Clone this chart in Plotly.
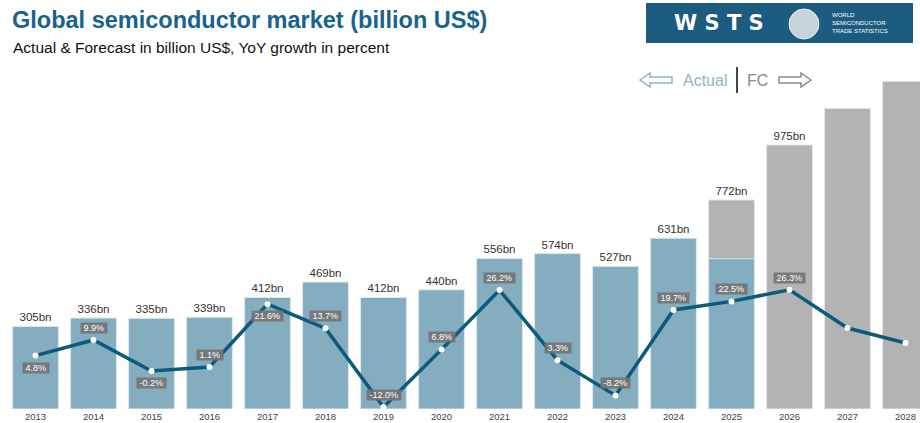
import plotly.graph_objects as go

years = [str(y) for y in range(2013, 2029)]
actual_years = years[:13]
actual_values = [305, 336, 335, 339, 412, 469, 412, 440, 556, 574, 527, 631, 555]
actual_labels = ["305bn", "336bn", "335bn", "339bn", "412bn", "469bn", "412bn", "440bn",
                 "556bn", "574bn", "527bn", "631bn", ""]
fc_years = years[12:]
fc_values = [772, 975, 1110, 1210]
fc_labels = ["772bn", "975bn", "", ""]
growth = [4.8, 9.9, -0.2, 1.1, 21.6, 13.7, -12.0, 6.8, 26.2, 3.3, -8.2, 19.7, 22.5, 26.3, 13.8, 8.9]
growth_labels = ["4.8%", "9.9%", "-0.2%", "1.1%", "21.6%", "13.7%", "-12.0%", "6.8%", "26.2%",
                 "3.3%", "-8.2%", "19.7%", "22.5%", "26.3%", "", ""]
label_below = ["2013", "2015", "2017"]

W, H = 920, 423
L, R, T, B = 6, 0, 60, 14
PW, PH = W - L - R, H - T - B


def px(x):
    return (x - L) / PW


def py(y):
    return (H - B - y) / PH


def path(points):
    return "M" + " L".join(f"{px(x):.5f},{py(y):.5f}" for x, y in points) + " Z"


fig = go.Figure()
fig.add_trace(go.Bar(x=fc_years, y=fc_values, text=fc_labels, textposition="outside",
                     marker=dict(color="#b3b3b3", line=dict(color="#e4e4e4", width=1)),
                     width=0.79, textfont=dict(size=11.5, color="#333"), cliponaxis=False,
                     showlegend=False, hoverinfo="skip"))
fig.add_trace(go.Bar(x=actual_years, y=actual_values, text=actual_labels, textposition="outside",
                     marker=dict(color="#84adbf", line=dict(color="#dce8ee", width=1)),
                     width=0.79, textfont=dict(size=11.5, color="#333"), cliponaxis=False,
                     showlegend=False, hoverinfo="skip"))
fig.add_trace(go.Scatter(x=years, y=growth, yaxis="y2", mode="lines+markers",
                         line=dict(color="#0d5b7c", width=3.5),
                         marker=dict(color="white", size=6, line=dict(width=0)),
                         cliponaxis=False, showlegend=False, hoverinfo="skip"))

annotations = []
for i, (yr, g, lab) in enumerate(zip(years, growth, growth_labels)):
    if not lab:
        continue
    annotations.append(dict(x=i, y=g, xref="x", yref="y2", text="\u00a0" + lab + "\u00a0",
                            showarrow=False, yshift=-12 if yr in label_below else 12,
                            bgcolor="rgba(115,115,115,0.9)", borderpad=0,
                            font=dict(size=9, color="white")))

annotations += [
    dict(x=px(10), y=py(20), xref="paper", yref="paper", xanchor="left", yanchor="middle",
         text="<b>Global semiconductor market (billion US$)</b>", showarrow=False,
         font=dict(size=23.5, color="#17638b", family="Liberation Sans, Arial")),
    dict(x=px(11), y=py(47), xref="paper", yref="paper", xanchor="left", yanchor="middle",
         text="Actual & Forecast in billion US$, YoY growth in percent", showarrow=False,
         font=dict(size=15.5, color="#111", family="Liberation Sans, Arial")),
    dict(x=px(719), y=py(23), xref="paper", yref="paper", xanchor="center", yanchor="middle",
         text="<b>W S T S</b>", showarrow=False,
         font=dict(size=21, color="white", family="DejaVu Sans")),
    dict(x=px(830), y=py(23), xref="paper", yref="paper", xanchor="left", yanchor="middle",
         text="WORLD<br>SEMICONDUCTOR<br>TRADE STATISTICS", showarrow=False, align="left",
         font=dict(size=6, color="white", family="Liberation Sans, Arial")),
    dict(x=px(729), y=py(80), xref="paper", yref="paper", xanchor="right", yanchor="middle",
         text="Actual", showarrow=False,
         font=dict(size=16, color="#8db4c7", family="Liberation Sans, Arial")),
    dict(x=px(745), y=py(80), xref="paper", yref="paper", xanchor="left", yanchor="middle",
         text="FC", showarrow=False,
         font=dict(size=16, color="#8a8a8a", family="Liberation Sans, Arial")),
]

shapes = [
    dict(type="rect", xref="paper", yref="paper", x0=px(646), x1=px(913), y0=py(43), y1=py(3),
         fillcolor="#1b5c80", line=dict(width=0), layer="above"),
    dict(type="circle", xref="paper", yref="paper", x0=px(789), x1=px(819), y0=py(39), y1=py(9),
         fillcolor="#c8d2d9", line=dict(color="#e8eef2", width=1), layer="above"),
    dict(type="line", xref="paper", yref="paper", x0=px(737), x1=px(737), y0=py(67), y1=py(93),
         line=dict(color="#444", width=2)),
    dict(type="path", xref="paper", yref="paper",
         path=path([(640, 80), (650, 73), (650, 77), (672, 77), (672, 83), (650, 83), (650, 87)]),
         line=dict(color="#8db4c7", width=1.5)),
    dict(type="path", xref="paper", yref="paper",
         path=path([(811, 80), (801, 73), (801, 77), (779, 77), (779, 83), (801, 83), (801, 87)]),
         line=dict(color="#8a8a8a", width=1.5)),
]

fig.update_layout(
    width=W, height=H, margin=dict(l=L, r=R, t=T, b=B),
    paper_bgcolor="white", plot_bgcolor="white",
    barmode="overlay",
    font=dict(family="Liberation Sans, Arial"),
    xaxis=dict(type="category", categoryorder="array", categoryarray=years,
               range=[-0.5086, 15.25], showgrid=False, showline=False,
               ticks="", tickfont=dict(size=9.5, color="#444"), fixedrange=True),
    yaxis=dict(range=[0, 1289], visible=False, fixedrange=True),
    yaxis2=dict(range=[-12.63, 101.3], overlaying="y", visible=False, fixedrange=True),
    annotations=annotations,
    shapes=shapes,
)

# the page body has a default 8px margin, drop it so the figure fills the window
fig.write_html("out.html", config={"displayModeBar": False},
               post_script="document.body.style.margin='0';")
